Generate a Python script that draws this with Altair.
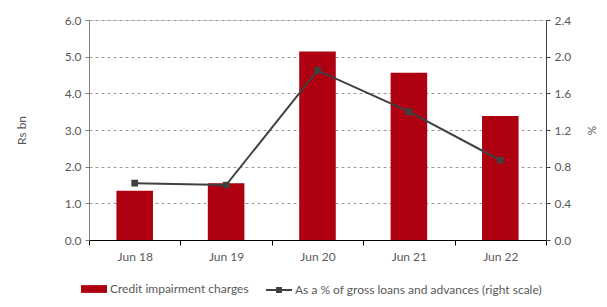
import altair as alt
import pandas as pd

periods = ["Jun 18", "Jun 19", "Jun 20", "Jun 21", "Jun 22"]
charges = [1.34, 1.55, 5.14, 4.56, 3.38]
pct = [0.62, 0.60, 1.85, 1.40, 0.87]
bar_label = "Credit impairment charges"
line_label = "As a % of gross loans and advances (right scale)"

df = pd.DataFrame({"period": periods, "charges": charges, "pct": pct})

FONT = "Lato"
TXT = "#595959"
FS = 12

x = alt.X("period:N", sort=periods, title=None,
          scale=alt.Scale(paddingInner=0, paddingOuter=0),
          axis=alt.Axis(labelAngle=0, tickBand="extent", domainColor="#000000",
                        tickColor="#000000", tickSize=5, labelPadding=6,
                        labelColor=TXT, labelFont=FONT, labelFontSize=FS, grid=False))

bars = alt.Chart(df).mark_bar(width=alt.RelativeBandSize(0.4)).encode(
    x=x,
    y=alt.Y("charges:Q", title="Rs bn",
            scale=alt.Scale(domain=[0, 6], nice=False),
            axis=alt.Axis(values=[0, 1, 2, 3, 4, 5, 6], format=".1f", grid=True,
                          gridDash=[3, 3], gridColor="#9a9a9a", gridWidth=1,
                          domainColor="#808080", tickColor="#808080", tickSize=4,
                          labelPadding=4, labelColor=TXT, labelFont=FONT, labelFontSize=FS,
                          titleColor=TXT, titleFont=FONT, titleFontSize=FS,
                          titleFontWeight="normal", titlePadding=36)),
    color=alt.Color("lbl:N", scale=alt.Scale(domain=[bar_label], range=["#AE0011"]),
                    legend=alt.Legend(title=None, orient="none", legendX=-8, legendY=256,
                                      symbolType="M-1,-0.3H1V0.3H-1Z", symbolSize=676,
                                      symbolStrokeWidth=0, labelOffset=3, labelLimit=400,
                                      labelColor=TXT, labelFont=FONT, labelFontSize=FS)),
).transform_calculate(lbl=f"'{bar_label}'")

line = alt.Chart(df).mark_line(
    strokeWidth=2,
    point=alt.OverlayMarkDef(shape="square", size=22, filled=True, color="#404040"),
).encode(
    x=alt.X("period:N", sort=periods),
    y=alt.Y("pct:Q", title="%",
            scale=alt.Scale(domain=[0, 2.4], nice=False),
            axis=alt.Axis(orient="right", values=[0, 0.4, 0.8, 1.2, 1.6, 2.0, 2.4],
                          format=".1f", grid=False, domainColor="#404040",
                          tickColor="#404040", tickSize=4, labelPadding=4,
                          labelColor=TXT, labelFont=FONT, labelFontSize=FS,
                          titleColor=TXT, titleFont=FONT, titleFontSize=FS,
                          titleFontWeight="normal", titlePadding=14)),
    stroke=alt.Stroke("lbl2:N", scale=alt.Scale(domain=[line_label], range=["#404040"]),
                      legend=alt.Legend(title=None, orient="none", legendX=176, legendY=256,
                                        symbolType="M-1,0L1,0M-0.15,-0.15L0.15,-0.15L0.15,0.15L-0.15,0.15Z",
                                        symbolSize=676, symbolStrokeWidth=2,
                                        symbolStrokeColor="#404040",
                                        symbolFillColor="#404040", symbolOpacity=1,
                                        labelOffset=2, labelLimit=400,
                                        labelColor=TXT, labelFont=FONT, labelFontSize=FS)),
).transform_calculate(lbl2=f"'{line_label}'")

chart = alt.layer(bars, line).resolve_scale(
    y="independent", color="independent", stroke="independent"
).properties(
    width=457, height=220,
    autosize=alt.AutoSizeParams(type="none"),
    padding={"left": 81, "top": 12, "right": 53, "bottom": 59},
).configure_view(stroke=None).configure(background="white")

chart.save("out.html", embed_options={"renderer": "svg", "actions": False})
